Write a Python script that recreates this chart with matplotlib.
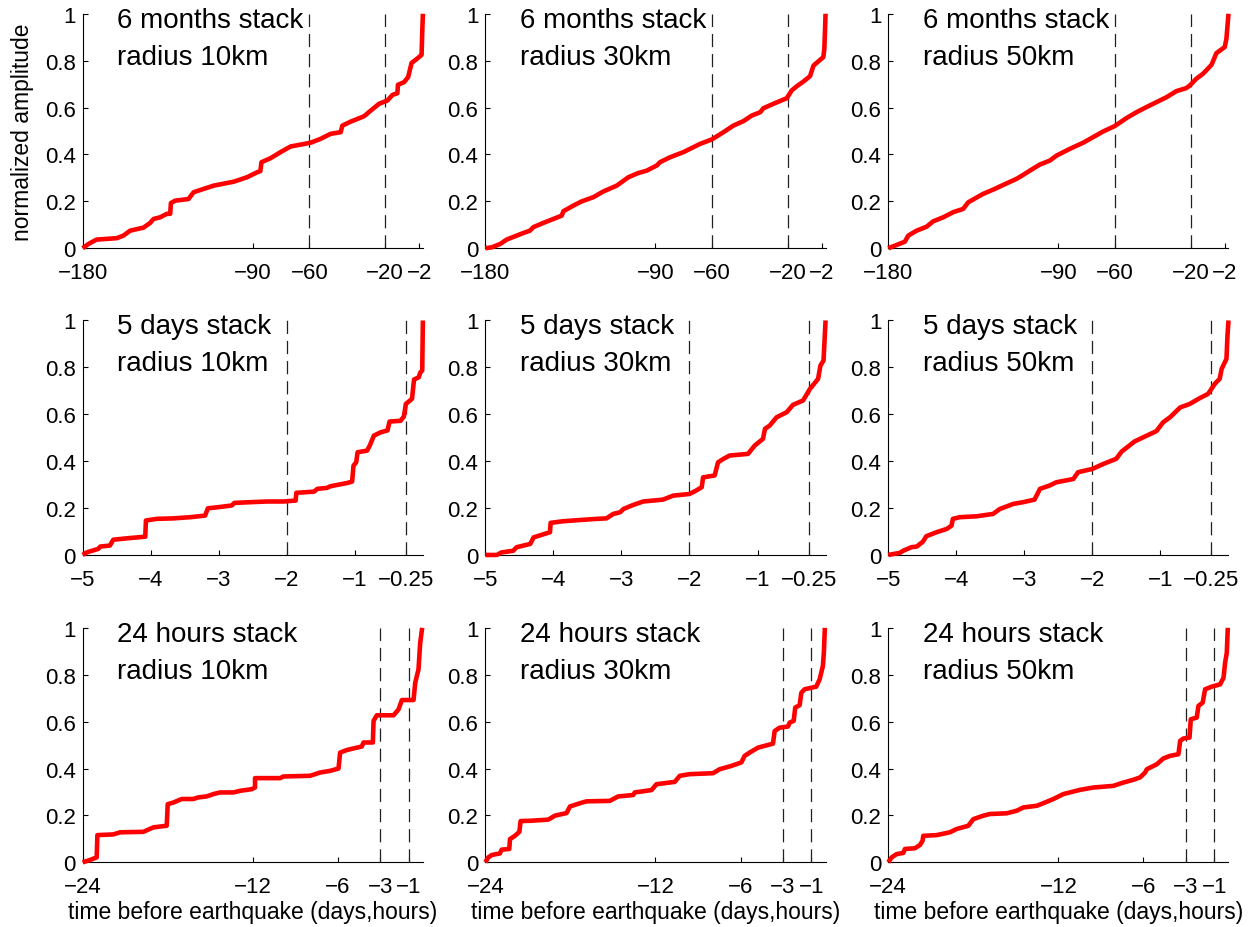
import matplotlib
matplotlib.use("Agg")
import matplotlib.pyplot as plt

plt.rcParams["font.family"] = ["Liberation Sans", "DejaVu Sans"]
plt.rcParams["lines.scale_dashes"] = False

# --- 6 months stack (days before earthquake) ---
t_6m_10 = [-180, -177, -172.6, -162, -158.4, -154.9, -147.8, -144.3, -142.5, -139, -135.4, -133.7, -133.3, -131,
           -124, -121.3, -116, -110.7, -100, -93, -87.7, -86, -85.4, -80.6, -75.3, -70, -59.4, -54, -48.8, -43.5,
           -42.6, -38.2, -31.1, -27.6, -23.2, -18.8, -16.1, -13.5, -13.2, -10, -7.8, -6, -2.8, -0.7, -0.35, 0]
a_6m_10 = [0, 0.018, 0.037, 0.043, 0.054, 0.075, 0.088, 0.108, 0.125, 0.132, 0.147, 0.147, 0.193, 0.203,
           0.21, 0.239, 0.253, 0.267, 0.284, 0.303, 0.324, 0.329, 0.367, 0.384, 0.41, 0.434, 0.45, 0.467, 0.488, 0.495,
           0.523, 0.54, 0.563, 0.587, 0.616, 0.63, 0.654, 0.661, 0.697, 0.708, 0.73, 0.79, 0.81, 0.825, 0.92, 1]

t_6m_30 = [-180, -176.6, -172.2, -168.7, -163.4, -159.9, -156.4, -154.6, -149.3, -144, -139.6, -138.7, -133.4, -129,
           -122.8, -117.6, -110.5, -107.9, -104.3, -99, -94.6, -89.3, -87.6, -82.3, -75.2, -69.9, -66.4, -60.2, -54,
           -48.8, -43.5, -39, -34.6, -32.9, -27.6, -20.5, -17.9, -15.2, -11.7, -8.2, -6.4, -3.8, -1.2, -0.65, 0]
a_6m_30 = [0, 0.004, 0.018, 0.037, 0.054, 0.065, 0.075, 0.09, 0.108, 0.125, 0.139, 0.158, 0.182, 0.2,
           0.218, 0.242, 0.267, 0.282, 0.303, 0.321, 0.331, 0.353, 0.367, 0.388, 0.41, 0.431, 0.445, 0.464, 0.495,
           0.523, 0.542, 0.566, 0.58, 0.597, 0.616, 0.64, 0.673, 0.691, 0.711, 0.734, 0.779, 0.797, 0.815, 0.85, 1]

t_6m_50 = [-180, -175.6, -171.2, -169.4, -165, -159.7, -156.2, -150.9, -145.6, -140.3, -137.7, -129.8, -124.5, -119.2,
           -112.1, -108.6, -105.1, -99.8, -94.5, -91, -83.9, -76.9, -71.6, -66.3, -60.2, -54, -48.7, -43.4, -38.1,
           -32.8, -27.6, -22.3, -20.5, -17, -13.5, -9, -6.4, -2, -1.1, 0]
a_6m_50 = [0, 0.014, 0.028, 0.054, 0.075, 0.092, 0.115, 0.132, 0.154, 0.168, 0.196, 0.232, 0.25, 0.27,
           0.296, 0.313, 0.331, 0.357, 0.374, 0.395, 0.424, 0.45, 0.474, 0.498, 0.521, 0.555, 0.58, 0.602, 0.623,
           0.644, 0.67, 0.683, 0.694, 0.723, 0.744, 0.782, 0.832, 0.858, 0.893, 1]

# --- 5 days stack (days before earthquake) ---
t_5d_10 = [-5, -4.94, -4.77, -4.74, -4.6, -4.55, -4.35, -4.08, -4.07, -3.91, -3.67, -3.42, -3.2, -3.16, -3.03, -2.81,
           -2.77, -2.54, -2.29, -2.05, -1.87, -1.86, -1.6, -1.55, -1.41, -1.36, -1.11, -1.04, -1.02, -0.98, -0.96,
           -0.82, -0.78, -0.72, -0.62, -0.52, -0.49, -0.33, -0.28, -0.25, -0.16, -0.13, -0.06, -0.04, -0.01, 0]
a_5d_10 = [0, 0.011, 0.026, 0.036, 0.04, 0.065, 0.071, 0.078, 0.147, 0.154, 0.156, 0.161, 0.168, 0.199, 0.203, 0.211,
           0.222, 0.225, 0.228, 0.228, 0.232, 0.265, 0.27, 0.282, 0.286, 0.293, 0.307, 0.313, 0.381, 0.395, 0.438,
           0.445, 0.467, 0.509, 0.523, 0.531, 0.569, 0.572, 0.59, 0.644, 0.666, 0.748, 0.758, 0.777, 0.787, 1]

t_5d_30 = [-5, -4.83, -4.76, -4.59, -4.54, -4.34, -4.29, -4.05, -4.04, -3.85, -3.61, -3.36, -3.22, -3.12, -3.02, -2.97,
           -2.83, -2.68, -2.39, -2.24, -2, -1.9, -1.82, -1.8, -1.63, -1.58, -1.5, -1.41, -1.14, -1.04, -0.92, -0.89,
           -0.82, -0.72, -0.57, -0.48, -0.33, -0.23, -0.11, -0.075, -0.03, 0]
a_5d_30 = [0, 0, 0.011, 0.018, 0.033, 0.047, 0.075, 0.097, 0.137, 0.144, 0.149, 0.154, 0.156, 0.175, 0.182, 0.196,
           0.213, 0.228, 0.236, 0.253, 0.26, 0.275, 0.289, 0.331, 0.339, 0.395, 0.41, 0.424, 0.431, 0.467, 0.495, 0.538,
           0.552, 0.587, 0.609, 0.64, 0.659, 0.708, 0.751, 0.808, 0.829, 1]

t_5d_50 = [-5, -4.83, -4.78, -4.66, -4.58, -4.49, -4.44, -4.29, -4.14, -4.07, -4.05, -3.95, -3.7, -3.46, -3.36, -3.16,
           -3.02, -2.85, -2.77, -2.63, -2.53, -2.28, -2.21, -2, -1.84, -1.65, -1.57, -1.38, -1.2, -1.06, -0.96, -0.86,
           -0.71, -0.57, -0.42, -0.3, -0.2, -0.13, -0.1, -0.03, -0.015, 0]
a_5d_50 = [0, 0.009, 0.018, 0.033, 0.036, 0.057, 0.08, 0.097, 0.111, 0.125, 0.154, 0.161, 0.165, 0.175, 0.196, 0.218,
           0.225, 0.236, 0.282, 0.296, 0.31, 0.324, 0.353, 0.367, 0.388, 0.41, 0.441, 0.484, 0.509, 0.528, 0.566, 0.587,
           0.629, 0.644, 0.669, 0.687, 0.73, 0.751, 0.794, 0.836, 0.936, 1]

# --- 24 hours stack (hours before earthquake) ---
t_24h_10 = [-24, -23.48, -23.01, -22.96, -21.84, -21.36, -19.72, -19.01, -18.07, -18, -17.6, -17.01, -16.19, -15.84,
            -15.25, -14.78, -14.31, -13.36, -12.89, -12.07, -11.84, -11.84, -10.07, -9.84, -7.95, -7.25, -6.54, -5.95,
            -5.84, -5.36, -4.31, -4.19, -3.53, -3.48, -3.25, -2.07, -1.72, -1.48, -0.66, -0.54, -0.31, -0.19, -0.05]
a_24h_10 = [0, 0.01, 0.021, 0.116, 0.119, 0.128, 0.13, 0.149, 0.156, 0.248, 0.255, 0.27, 0.27, 0.277,
            0.281, 0.291, 0.298, 0.298, 0.305, 0.312, 0.319, 0.359, 0.359, 0.366, 0.369, 0.383, 0.39, 0.4,
            0.468, 0.479, 0.494, 0.511, 0.511, 0.603, 0.627, 0.627, 0.652, 0.692, 0.692, 0.766, 0.823, 0.936, 1]

t_24h_30 = [-24, -23.79, -23.55, -22.97, -22.85, -22.31, -22.26, -21.91, -21.6, -21.51, -20.85, -19.56, -19.09, -18.27,
            -18.03, -17.33, -16.86, -15.22, -14.63, -13.57, -13.46, -12.28, -11.93, -10.64, -10.28, -9.58, -7.94, -7.47,
            -6.65, -5.94, -5.71, -5.35, -4.77, -3.71, -3.59, -3.24, -2.65, -2.53, -2.25, -2.14, -1.83, -1.71, -1.48,
            -0.66, -0.42, -0.19, -0.12, -0.05]
a_24h_30 = [0, 0.021, 0.031, 0.038, 0.054, 0.057, 0.099, 0.113, 0.13, 0.176, 0.177, 0.182, 0.199, 0.21,
            0.238, 0.252, 0.26, 0.262, 0.281, 0.287, 0.298, 0.308, 0.333, 0.343, 0.369, 0.376, 0.38, 0.397,
            0.411, 0.426, 0.454, 0.468, 0.489, 0.506, 0.56, 0.574, 0.579, 0.596, 0.603, 0.66, 0.67, 0.723, 0.738,
            0.749, 0.78, 0.837, 0.894, 1]

t_24h_50 = [-24, -23.76, -23.41, -22.94, -22.82, -22.12, -21.76, -21.58, -21.53, -20.59, -19.65, -19.18, -18.35, -18,
            -17.29, -16.82, -15.65, -14.94, -14.47, -13.53, -13.06, -12.35, -11.65, -10.47, -9.53, -8.12, -7.53, -6.71,
            -6.24, -5.88, -5.76, -5.06, -4.59, -4.12, -3.53, -3.41, -3.18, -2.75, -2.66, -2.24, -2.12, -1.82, -1.65,
            -1.18, -0.59, -0.35, -0.24, -0.12, -0.05]
a_24h_50 = [0, 0.021, 0.035, 0.04, 0.057, 0.06, 0.074, 0.092, 0.113, 0.116, 0.128, 0.142, 0.156, 0.184,
            0.199, 0.206, 0.209, 0.22, 0.234, 0.241, 0.252, 0.27, 0.291, 0.309, 0.319, 0.326, 0.338, 0.352,
            0.362, 0.383, 0.397, 0.418, 0.443, 0.454, 0.461, 0.518, 0.528, 0.532, 0.61, 0.617, 0.667, 0.681, 0.738,
            0.749, 0.759, 0.787, 0.851, 0.894, 1]

stack_names = ["6 months stack", "5 days stack", "24 hours stack"]
radii = ["radius 10km", "radius 30km", "radius 50km"]
x_starts = [-180, -5, -24]
x_ticks = [[-180, -90, -60, -20, -2], [-5, -4, -3, -2, -1, -0.25], [-24, -12, -6, -3, -1]]
x_ticklabels = [["\u2212180", "\u221290", "\u221260", "\u221220", "\u22122"],
                ["\u22125", "\u22124", "\u22123", "\u22122", "\u22121", "\u22120.25"],
                ["\u221224", "\u221212", "\u22126", "\u22123", "\u22121"]]
dash_marks = [[-60, -20], [-2, -0.25], [-3, -1]]
y_ticks = [0, 0.2, 0.4, 0.6, 0.8, 1]
y_ticklabels = ["0", "0.2", "0.4", "0.6", "0.8", "1"]

curves = [[(t_6m_10, a_6m_10), (t_6m_30, a_6m_30), (t_6m_50, a_6m_50)],
          [(t_5d_10, a_5d_10), (t_5d_30, a_5d_30), (t_5d_50, a_5d_50)],
          [(t_24h_10, a_24h_10), (t_24h_30, a_24h_30), (t_24h_50, a_24h_50)]]

fig = plt.figure(figsize=(12.56, 9.28), dpi=100)
lefts = [0.0658, 0.3864, 0.7072]
bottoms = [0.7314, 0.4009, 0.0697]
w, h = 0.2709, 0.2527

for r in range(3):
    for c in range(3):
        ax = fig.add_axes([lefts[c], bottoms[r], w, h])
        t, a = curves[r][c]
        for xm in dash_marks[r]:
            ax.axvline(xm, color="#202020", lw=0.9, dashes=(9.5, 5))
        ax.plot(t, a, color="#ff0000", lw=3.3, clip_on=False, solid_capstyle="butt", zorder=3)
        ax.set_xlim(x_starts[r], 0)
        ax.set_ylim(0, 1)
        ax.set_xticks(x_ticks[r])
        ax.set_xticklabels(x_ticklabels[r])
        ax.set_yticks(y_ticks)
        ax.set_yticklabels(y_ticklabels)
        ax.spines["top"].set_visible(False)
        ax.spines["right"].set_visible(False)
        for s in ("left", "bottom"):
            ax.spines[s].set_linewidth(0.8)
        ax.tick_params(direction="in", length=3.5, width=0.8, labelsize=16)
        ax.tick_params(axis="x", pad=10)
        ax.tick_params(axis="y", pad=5)
        ax.text(0.102, 0.945, stack_names[r], transform=ax.transAxes, fontsize=20, va="baseline")
        ax.text(0.102, 0.787, radii[c], transform=ax.transAxes, fontsize=20, va="baseline")
        if r == 2:
            ax.set_xlabel("time before earthquake (days,hours)", fontsize=16.5, labelpad=2)
        if r == 0 and c == 0:
            ax.set_ylabel("normalized amplitude", fontsize=16.5, labelpad=8)

fig.savefig("out.png", dpi=100)
